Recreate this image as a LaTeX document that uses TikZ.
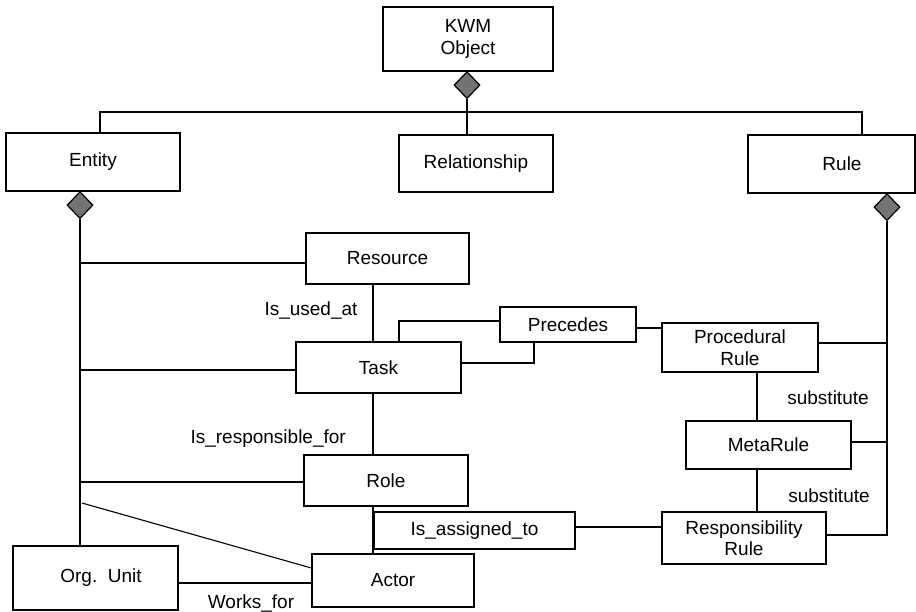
\documentclass[tikz,border=0pt]{standalone}
\usepackage{fontspec}
\setmainfont{Liberation Sans}
\usetikzlibrary{shapes.geometric}
\begin{document}
\begin{tikzpicture}[x=1pt,y=-1pt,
  box/.style={draw,line width=1.2pt,rectangle,inner sep=0pt,align=center,font=\fontsize{19}{21.5}\selectfont},
  agg/.style={draw,line width=1.2pt,diamond,fill=black!55,inner sep=0pt,minimum width=26pt,minimum height=27pt},
  conn/.style={line width=1.1pt},
  lbl/.style={inner sep=0pt,font=\fontsize{19}{21.5}\selectfont}]
\useasboundingbox (0,0) rectangle (916,611);
% boxes
\node[box,minimum width=170pt,minimum height=64pt] (kwm) at (468,39) {KWM\\Object};
\node[box,minimum width=174pt,minimum height=58pt] (entity) at (93,162) {Entity};
\node[box,minimum width=154pt,minimum height=57pt] (rel) at (476,163.5) {Relationship};
\node[box,minimum width=167pt,minimum height=58pt] (rule) at (831.5,164) {\hspace*{21pt}Rule};
\node[box,minimum width=163pt,minimum height=51pt] (resource) at (387.5,258.5) {Resource};
\node[box,minimum width=165pt,minimum height=51pt] (task) at (378.5,367.5) {Task};
\node[box,minimum width=136pt,minimum height=35pt] (precedes) at (568,324.5) {Precedes};
\node[box,minimum width=156pt,minimum height=49pt] (proc) at (740,347.5) {Procedural\\Rule};
\node[box,minimum width=165pt,minimum height=48pt] (meta) at (768.5,445) {MetaRule};
\node[box,minimum width=164pt,minimum height=52pt] (resp) at (744,538) {Responsibility\\Rule};
\node[box,minimum width=201pt,minimum height=37pt] (assigned) at (474.5,530.5) {Is\_assigned\_to};
\node[box,minimum width=164pt,minimum height=51pt] (role) at (386,480.5) {Role};
\node[box,minimum width=162pt,minimum height=53pt] (actor) at (393,580.5) {Actor};
\node[box,minimum width=165pt,minimum height=64pt] (org) at (95.5,578) {\hspace*{11pt}Org.~~Unit};
% aggregation diamonds
\node[agg,anchor=north] (kd) at (467,71) {};
\node[agg,anchor=north] (ed) at (80,191) {};
\node[agg,anchor=north] (rd) at (887,193) {};
% helper coordinates
\coordinate (tl) at (100,112);
\coordinate (tr) at (862,112);
\coordinate (vr) at (887,535);
\coordinate (ea) at (80,263);
\coordinate (eb) at (80,370);
\coordinate (ec) at (80,482);
\coordinate (edg) at (82,503);
\coordinate (vx) at (373,0);
\coordinate (px) at (399,321);
\coordinate (qx) at (534,363);
\coordinate (mx) at (757,0);
% top hierarchy
\draw[conn] (kd.south) -- (kd.south |- rel.north);
\draw[conn] (entity.north -| tl) -- (tl) -- (tr) -- (rule.north -| tr);
% entity branch
\draw[conn] (ed.south) -- (ed.south |- org.north);
\draw[conn] (ea) -- (ea -| resource.west);
\draw[conn] (eb) -- (eb -| task.west);
\draw[conn] (ec) -- (ec -| role.west);
\draw[conn] (edg) -- (actor.west |- 0,568);
% rule branch
\draw[conn] (rd.south) -- (vr) -- (vr -| resp.east);
\draw[conn] (proc.east |- 0,343) -- (887,343);
\draw[conn] (meta.east |- 0,442) -- (887,442);
\draw[conn] (proc.south -| mx) -- (meta.north -| mx);
\draw[conn] (meta.south -| mx) -- (resp.north -| mx);
% task relations
\draw[conn] (resource.south -| vx) -- (task.north -| vx);
\draw[conn] (task.north -| px) -- (px) -- (px -| precedes.west);
\draw[conn] (precedes.south -| qx) -- (qx) -- (qx -| task.east);
\draw[conn] (precedes.east |- 0,328) -- (proc.west |- 0,328);
\draw[conn] (task.south -| vx) -- (role.north -| vx);
\draw[conn] (role.south -| vx) -- (actor.north -| vx);
\draw[conn] (assigned.east |- 0,527) -- (resp.west |- 0,527);
\draw[conn] (org.east |- 0,583) -- (actor.west |- 0,583);
% labels
\node[lbl,anchor=base] (lused) at (311,315) {Is\_used\_at};
\node[lbl,anchor=base east] (lresp) at (346,443) {Is\_responsible\_for};
\node[lbl,anchor=base] (lworks) at (251,608) {Works\_for};
\node[lbl,anchor=base] (lsub1) at (828,404) {substitute};
\node[lbl,anchor=base] (lsub2) at (829,502) {substitute};
\end{tikzpicture}
\end{document}
